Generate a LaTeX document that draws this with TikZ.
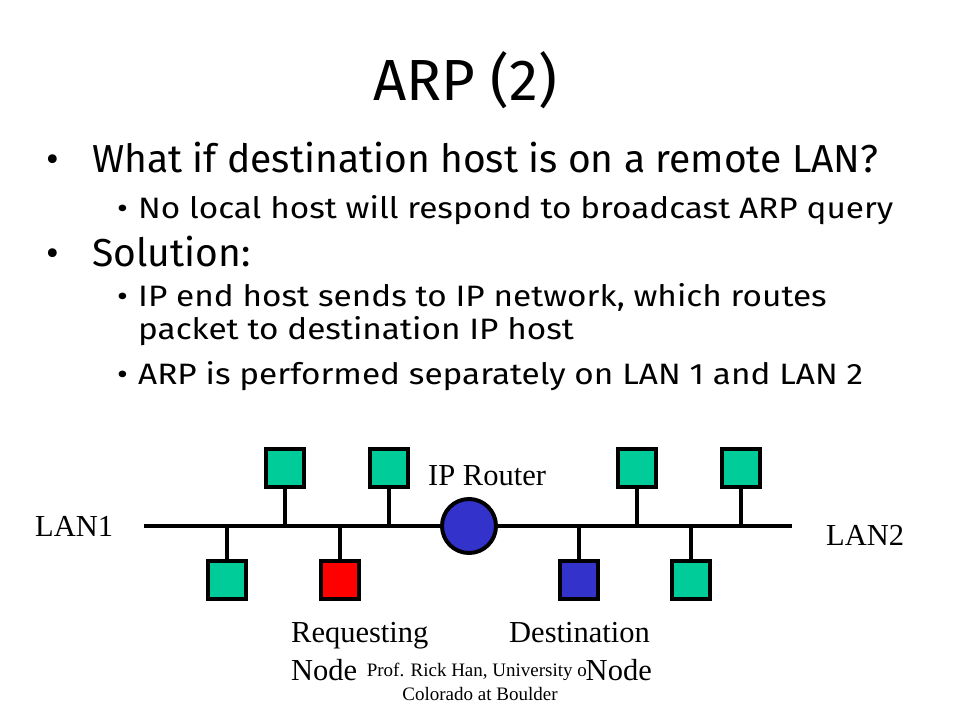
\documentclass[tikz,border=0pt]{standalone}
\usepackage{fontspec}
\setmainfont{Liberation Serif}
\newfontfamily\slidefont{Fira Sans}
\newfontfamily\subfont[FakeStretch=1.13]{Fira Sans}
\definecolor{hostgreen}{HTML}{00CC99}
\definecolor{reqred}{HTML}{FF0000}
\definecolor{rtblue}{HTML}{3333CC}
\begin{document}
\begin{tikzpicture}[x=1pt,y=-1pt,
  txt/.style={anchor=base west,inner sep=0pt},
  ttl/.style={anchor=base,inner sep=0pt,font=\slidefont\fontsize{58}{60}\selectfont},
  lvlone/.style={txt,font=\slidefont\fontsize{39}{40}\selectfont},
  lvltwo/.style={txt,font=\subfont\fontsize{29.5}{32}\selectfont},
  lbl/.style={txt,font=\fontsize{30.5}{34}\selectfont},
  foot/.style={anchor=base,inner sep=0pt,font=\fontsize{19}{22}\selectfont},
  host/.style={draw=black,line width=4pt,minimum size=38pt,inner sep=0pt},
  wire/.style={line width=4.5pt}]
\useasboundingbox (0,0) rectangle (960,720);
% title and bullets
\node[ttl] (title) at (465,100) {ARP (2)};
\node[lvlone] (b1) at (46,172) {•};
\node[lvlone] (t1) at (92,172) {What if destination host is on a remote LAN?};
\node[lvltwo] (b2) at (117,218) {•};
\node[lvltwo] (t2) at (138,218) {No local host will respond to broadcast ARP query};
\node[lvlone] (b3) at (46,266) {•};
\node[lvlone] (t3) at (92,266) {Solution:};
\node[lvltwo] (b4) at (117,306) {•};
\node[lvltwo] (t4) at (138,306) {IP end host sends to IP network, which routes};
\node[lvltwo] (t5) at (138,339) {packet to destination IP host};
\node[lvltwo] (b6) at (117,384) {•};
\node[lvltwo] (t6) at (138,384) {ARP is performed separately on LAN 1 and LAN 2};
% bus
\coordinate (busL) at (144,526);
\coordinate (busR) at (792,526);
\draw[wire] (busL) -- (busR);
% hosts
\node[host,fill=hostgreen] (h1) at (285,468) {};
\node[host,fill=hostgreen] (h2) at (389,468) {};
\node[host,fill=hostgreen] (h3) at (637,468) {};
\node[host,fill=hostgreen] (h4) at (741,468) {};
\node[host,fill=hostgreen] (h5) at (227,580) {};
\node[host,fill=reqred] (h6) at (340,580) {};
\node[host,fill=rtblue] (h7) at (579,580) {};
\node[host,fill=hostgreen] (h8) at (691,580) {};
\foreach \h in {h1,h2,h3,h4,h5,h6,h7,h8}
  \draw[wire] (\h) -- (\h |- busL);
% router
\node[draw=black,line width=4pt,fill=rtblue,circle,minimum size=54pt,inner sep=0pt] (rt) at (469,526) {};
% labels
\node[lbl] (lrt) at (428,485) {IP Router};
\node[lbl] (lan1) at (35,536) {LAN1};
\node[lbl] (lan2) at (826,545) {LAN2};
\node[foot] (foot1) at (480,676) {Prof. Rick Han, University of};
\node[foot] (foot2) at (480,700) {Colorado at Boulder};
\node[lbl] (req1) at (291,642) {Requesting};
\node[lbl] (req2) at (291,680) {Node};
\node[lbl] (dst1) at (509,642) {Destination};
\node[lbl,anchor=base east,fill=white,inner xsep=0pt,inner ysep=1pt] (dst2) at (652,680) {Node};
\end{tikzpicture}
\end{document}
